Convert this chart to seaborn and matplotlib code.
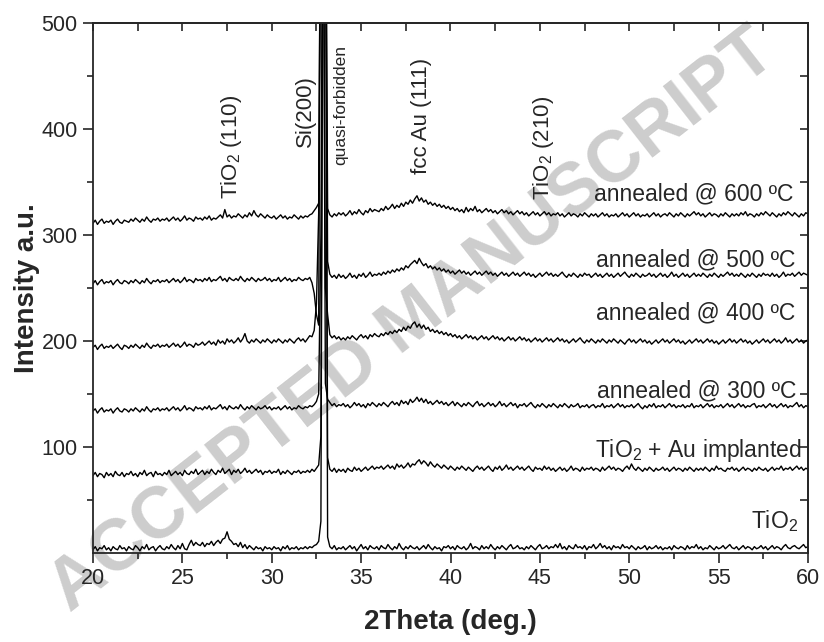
import numpy as np
import pandas as pd
import matplotlib
matplotlib.use("Agg")
import matplotlib.pyplot as plt
from matplotlib.ticker import MultipleLocator, FixedLocator
import seaborn as sns

# ---------------- data (0.125 deg steps) ----------------
two_theta = (20.0 + 0.125 * np.arange(321)).round(3)

tio2 = [
    3, 6, 2, 5, 4, 7, 3, 5, 2, 6, 4, 3, 7, 4, 5, 2,
    6, 4, 3, 7, 5, 2, 6, 4, 8, 3, 5, 6, 2, 5, 7, 4,
    3, 6, 4, 8, 5, 3, 7, 4, 9, 4, 3, 8, 12, 7, 10, 8,
    7, 10, 6, 9, 8, 11, 7, 10, 12, 9, 13, 14, 20, 13, 11, 8,
    9, 6, 10, 5, 8, 4, 7, 5, 3, 6, 4, 5, 2, 6, 4, 5,
    3, 6, 4, 5, 2, 6, 4, 7, 3, 5, 4, 6, 3, 5, 4, 6,
    4, 6, 5, 7, 8, 11, 30, 700, 700, 15, 6, 4, 7, 3, 5, 4,
    6, 3, 5, 7, 4, 6, 2, 5, 8, 4, 6, 3, 7, 5, 4, 6,
    3, 7, 5, 4, 8, 5, 3, 6, 4, 9, 5, 3, 6, 4, 7, 5,
    4, 6, 3, 5, 7, 4, 8, 5, 3, 6, 4, 5, 2, 6, 5, 7,
    4, 6, 3, 7, 5, 4, 6, 3, 5, 9, 4, 6, 5, 3, 7, 4,
    6, 4, 8, 5, 3, 6, 4, 7, 5, 3, 6, 8, 4, 5, 7, 4,
    5, 3, 6, 4, 7, 5, 3, 6, 8, 4, 5, 7, 4, 6, 5, 8,
    5, 9, 4, 6, 3, 7, 5, 4, 8, 5, 6, 4, 7, 3, 6, 5,
    8, 4, 6, 9, 5, 7, 4, 6, 3, 7, 5, 6, 4, 8, 5, 6,
    4, 7, 5, 3, 6, 4, 5, 7, 3, 6, 4, 5, 7, 4, 6, 3,
    5, 4, 6, 3, 7, 5, 4, 6, 5, 3, 7, 4, 6, 5, 8, 4,
    6, 3, 5, 4, 7, 5, 3, 6, 4, 5, 7, 4, 6, 8, 5, 4,
    6, 3, 5, 7, 4, 6, 5, 3, 6, 4, 5, 7, 4, 6, 3, 5,
    7, 4, 6, 5, 3, 6, 8, 5, 4, 6, 7, 5, 4, 6, 8, 5,
    6]

tio2_au = [
    73, 76, 72, 75, 74, 71, 76, 73, 75, 72, 77, 74, 73, 76, 72, 75,
    74, 77, 73, 75, 72, 76, 74, 78, 73, 75, 76, 72, 77, 74, 75, 73,
    76, 74, 78, 73, 75, 77, 74, 76, 73, 78, 75, 74, 77, 75, 79, 74,
    76, 78, 74, 77, 75, 79, 76, 74, 78, 76, 80, 75, 77, 79, 74, 78,
    76, 79, 75, 77, 80, 76, 78, 75, 77, 79, 76, 78, 74, 77, 76, 78,
    75, 77, 76, 79, 74, 77, 75, 78, 76, 74, 77, 76, 78, 75, 77, 76,
    78, 76, 79, 77, 80, 83, 110, 700, 700, 90, 79, 77, 80, 76, 79, 77,
    79, 76, 80, 78, 77, 81, 78, 80, 77, 79, 81, 78, 80, 82, 79, 81,
    80, 82, 79, 81, 83, 80, 82, 79, 84, 81, 83, 80, 82, 85, 81, 84,
    83, 86, 88, 84, 87, 85, 82, 86, 83, 81, 84, 82, 80, 83, 81, 79,
    82, 80, 78, 81, 79, 82, 80, 78, 81, 79, 77, 80, 82, 79, 81, 78,
    80, 82, 79, 77, 81, 79, 82, 78, 80, 83, 79, 81, 78, 80, 82, 79,
    81, 78, 80, 82, 79, 77, 81, 79, 80, 78, 82, 79, 81, 78, 80, 77,
    79, 81, 78, 80, 77, 79, 82, 78, 80, 79, 77, 81, 78, 80, 79, 81,
    78, 80, 79, 77, 81, 78, 80, 82, 79, 81, 78, 80, 79, 77, 80, 82,
    79, 84, 80, 78, 81, 79, 77, 80, 78, 81, 79, 77, 80, 78, 79, 81,
    78, 80, 77, 79, 81, 78, 80, 79, 77, 80, 78, 81, 79, 77, 80, 78,
    80, 78, 81, 79, 77, 80, 78, 82, 79, 80, 78, 77, 80, 79, 81, 78,
    80, 77, 79, 81, 78, 80, 79, 77, 80, 78, 81, 79, 78, 80, 77, 79,
    81, 78, 80, 79, 82, 78, 80, 79, 81, 78, 80, 82, 79, 81, 78, 80,
    79]

ann300 = [
    134, 136, 132, 135, 137, 133, 135, 134, 136, 132, 135, 137, 134, 133, 136, 135,
    133, 136, 134, 137, 135, 133, 136, 134, 138, 135, 133, 136, 135, 137, 134, 136,
    135, 137, 134, 136, 138, 135, 137, 134, 136, 139, 135, 137, 136, 134, 138, 136,
    137, 135, 138, 136, 139, 135, 137, 136, 138, 140, 136, 138, 135, 139, 137, 136,
    138, 136, 140, 137, 135, 138, 136, 139, 137, 135, 138, 136, 137, 139, 136, 138,
    135, 137, 136, 138, 135, 137, 139, 136, 138, 135, 137, 136, 139, 137, 136, 138,
    137, 139, 138, 140, 143, 150, 300, 700, 160, 145, 142, 139, 141, 138, 140, 139,
    141, 138, 140, 137, 139, 142, 139, 141, 138, 140, 137, 141, 139, 142, 140, 138,
    141, 139, 142, 140, 138, 141, 143, 140, 142, 139, 144, 141, 143, 140, 145, 142,
    144, 147, 143, 146, 142, 145, 141, 143, 140, 142, 144, 141, 143, 140, 142, 139,
    141, 143, 139, 142, 140, 138, 141, 139, 142, 140, 138, 141, 143, 139, 141, 138,
    140, 142, 139, 141, 138, 140, 143, 139, 141, 138, 140, 142, 139, 141, 137, 140,
    139, 141, 138, 140, 142, 139, 137, 140, 138, 141, 139, 137, 140, 138, 141, 139,
    137, 140, 138, 141, 139, 137, 140, 138, 139, 141, 137, 139, 138, 140, 137, 139,
    140, 137, 139, 138, 141, 137, 139, 138, 140, 137, 139, 141, 138, 140, 137, 139,
    138, 140, 137, 139, 141, 138, 136, 139, 137, 140, 138, 141, 137, 139, 138, 140,
    137, 139, 141, 138, 140, 137, 139, 138, 140, 137, 139, 138, 141, 137, 139, 138,
    140, 137, 139, 141, 138, 140, 137, 139, 138, 140, 137, 139, 141, 138, 140, 137,
    139, 141, 138, 140, 137, 139, 138, 140, 141, 137, 139, 138, 140, 137, 139, 141,
    138, 140, 137, 139, 141, 138, 140, 137, 139, 138, 140, 142, 138, 140, 137, 139,
    138]

ann400 = [
    194, 196, 192, 195, 197, 193, 195, 194, 196, 193, 195, 197, 194, 192, 196, 195,
    193, 196, 194, 197, 195, 193, 196, 194, 198, 195, 193, 196, 195, 197, 194, 196,
    195, 197, 194, 196, 198, 195, 197, 194, 196, 199, 195, 197, 196, 194, 198, 196,
    197, 199, 196, 198, 200, 197, 199, 196, 201, 198, 200, 197, 202, 199, 201, 198,
    200, 203, 199, 202, 207, 200, 198, 201, 199, 202, 200, 198, 201, 199, 202, 200,
    198, 201, 199, 202, 200, 198, 201, 199, 202, 200, 198, 201, 203, 200, 202, 199,
    202, 205, 204, 210, 235, 320, 700, 700, 250, 225, 206, 203, 205, 202, 204, 201,
    203, 201, 204, 202, 205, 203, 201, 204, 206, 203, 205, 202, 206, 204, 207, 205,
    204, 207, 205, 208, 206, 209, 207, 210, 208, 211, 209, 213, 210, 214, 212, 216,
    218, 213, 216, 212, 215, 211, 213, 209, 211, 208, 210, 207, 209, 206, 208, 205,
    207, 204, 206, 203, 205, 202, 204, 206, 203, 205, 202, 204, 201, 203, 205, 202,
    204, 201, 203, 205, 202, 204, 201, 203, 200, 202, 204, 201, 203, 200, 202, 204,
    201, 203, 200, 202, 199, 201, 203, 200, 202, 199, 201, 203, 200, 202, 199, 201,
    203, 200, 202, 199, 201, 198, 200, 202, 199, 201, 203, 200, 198, 201, 199, 202,
    200, 198, 201, 199, 202, 200, 198, 201, 199, 202, 200, 198, 201, 199, 197, 200,
    202, 199, 201, 198, 200, 202, 199, 201, 198, 200, 197, 199, 201, 198, 200, 202,
    199, 201, 198, 200, 202, 199, 201, 198, 200, 197, 199, 201, 198, 200, 202, 199,
    201, 198, 200, 202, 199, 201, 198, 200, 197, 199, 201, 198, 200, 202, 199, 201,
    198, 200, 202, 199, 201, 198, 200, 197, 199, 201, 198, 200, 202, 199, 201, 198,
    200, 202, 199, 201, 198, 200, 203, 199, 201, 198, 200, 202, 199, 201, 198, 200,
    201]

ann500 = [
    254, 257, 253, 256, 258, 254, 256, 255, 257, 253, 256, 258, 255, 254, 257, 256,
    254, 257, 255, 258, 256, 254, 257, 255, 259, 256, 254, 257, 256, 258, 255, 257,
    256, 258, 255, 257, 259, 256, 258, 255, 257, 260, 256, 258, 257, 255, 259, 257,
    258, 256, 259, 257, 260, 256, 258, 257, 259, 261, 257, 259, 256, 260, 258, 257,
    259, 257, 261, 258, 256, 259, 257, 260, 258, 256, 259, 257, 258, 260, 257, 259,
    256, 258, 257, 260, 256, 258, 260, 257, 259, 256, 258, 257, 260, 258, 257, 259,
    258, 260, 255, 245, 225, 215, 700, 700, 700, 275, 263, 260, 262, 259, 263, 260,
    262, 259, 261, 264, 260, 262, 259, 263, 261, 264, 260, 262, 265, 261, 263, 262,
    264, 262, 265, 263, 266, 264, 267, 265, 268, 266, 269, 267, 271, 269, 272, 274,
    276, 273, 278, 274, 271, 273, 269, 271, 268, 270, 267, 269, 266, 268, 265, 267,
    264, 266, 263, 265, 267, 264, 266, 263, 265, 262, 264, 266, 263, 265, 262, 264,
    266, 263, 265, 262, 264, 261, 263, 265, 262, 264, 261, 263, 265, 262, 264, 261,
    263, 265, 262, 264, 261, 263, 260, 262, 264, 261, 263, 265, 262, 264, 261, 263,
    261, 263, 265, 262, 260, 263, 261, 264, 262, 260, 263, 261, 264, 262, 263, 260,
    262, 264, 261, 263, 260, 262, 264, 261, 263, 260, 262, 264, 261, 263, 265, 262,
    260, 263, 261, 264, 262, 260, 263, 261, 262, 264, 261, 263, 260, 262, 264, 261,
    263, 260, 262, 265, 261, 263, 260, 262, 264, 261, 263, 260, 262, 264, 261, 263,
    261, 264, 262, 260, 263, 261, 264, 262, 260, 263, 261, 263, 265, 262, 264, 261,
    263, 261, 264, 262, 260, 263, 261, 264, 262, 260, 263, 261, 264, 262, 263, 261,
    264, 261, 263, 260, 262, 265, 261, 263, 262, 264, 261, 263, 265, 262, 264, 263,
    262]

ann600 = [
    311, 314, 310, 313, 315, 311, 313, 312, 314, 310, 313, 315, 312, 311, 314, 313,
    312, 315, 313, 316, 314, 312, 315, 313, 317, 314, 312, 315, 314, 316, 313, 315,
    314, 316, 313, 315, 317, 314, 316, 313, 315, 318, 314, 316, 315, 313, 317, 315,
    316, 314, 317, 315, 318, 314, 316, 315, 317, 319, 316, 324, 317, 319, 316, 318,
    317, 320, 318, 316, 319, 317, 321, 318, 323, 319, 317, 320, 318, 316, 319, 317,
    316, 318, 315, 317, 319, 316, 318, 315, 317, 316, 319, 317, 315, 318, 316, 318,
    317, 319, 320, 323, 326, 330, 700, 700, 700, 325, 319, 317, 320, 318, 321, 319,
    321, 318, 320, 323, 319, 322, 320, 324, 321, 319, 323, 321, 325, 322, 324, 323,
    322, 325, 323, 327, 324, 326, 329, 325, 328, 326, 330, 327, 331, 329, 333, 330,
    334, 337, 332, 335, 331, 333, 329, 331, 328, 330, 327, 329, 326, 328, 325, 327,
    324, 326, 323, 325, 322, 324, 321, 326, 322, 325, 323, 327, 322, 324, 321, 323,
    325, 322, 324, 321, 323, 320, 322, 324, 321, 323, 320, 322, 319, 321, 323, 320,
    322, 319, 321, 318, 320, 322, 319, 321, 318, 320, 322, 319, 321, 318, 320, 319,
    321, 318, 320, 317, 319, 321, 318, 320, 319, 317, 320, 318, 321, 319, 317, 320,
    318, 320, 317, 319, 321, 318, 320, 317, 319, 318, 320, 317, 319, 321, 318, 320,
    317, 319, 321, 318, 320, 317, 319, 318, 320, 317, 319, 321, 318, 320, 317, 319,
    320, 318, 321, 319, 317, 320, 318, 321, 319, 317, 320, 318, 320, 322, 319, 321,
    318, 320, 317, 319, 321, 318, 320, 319, 317, 320, 318, 321, 319, 317, 320, 318,
    320, 318, 321, 319, 322, 318, 320, 319, 317, 320, 318, 321, 319, 322, 320, 318,
    321, 319, 317, 320, 318, 321, 319, 322, 320, 318, 321, 319, 317, 320, 318, 321,
    320]

series_names = ["TiO2", "TiO2 + Au implanted", "annealed @ 300", "annealed @ 400",
                "annealed @ 500", "annealed @ 600"]
series_values = [tio2, tio2_au, ann300, ann400, ann500, ann600]

x_ticks = [20, 25, 30, 35, 40, 45, 50, 55, 60]
y_ticks = [100, 200, 300, 400, 500]
y_minor = [50, 150, 250, 350, 450]

peak_labels = ["TiO$_2$ (110)", "Si(200)", "quasi-forbidden", "fcc Au (111)", "TiO$_2$ (210)"]
peak_pos = [27.75, 31.9, 33.87, 38.35, 45.2]
peak_base = [334, 383, 366, 358, 333]

curve_labels = ["annealed @ 600 ºC", "annealed @ 500 ºC", "annealed @ 400 ºC",
                "annealed @ 300 ºC", "TiO$_2$ + Au implanted", "TiO$_2$"]
curve_label_x = [59.2, 59.3, 59.3, 59.35, 59.65, 59.45]
curve_label_y = [333, 270, 220, 147, 90.5, 23.6]

# ---------------- build table ----------------
frames = []
for name, vals in zip(series_names, series_values):
    assert len(vals) == len(two_theta), (name, len(vals))
    frames.append(pd.DataFrame({"two_theta": two_theta, "intensity": vals, "sample": name}))
df = pd.concat(frames, ignore_index=True)

# ---------------- style ----------------
sns.set_style("ticks")
plt.rcParams["font.family"] = ["Liberation Sans", "DejaVu Sans"]
plt.rcParams["mathtext.fontset"] = "custom"
plt.rcParams["mathtext.rm"] = "Liberation Sans"
plt.rcParams["mathtext.default"] = "regular"

fig = plt.figure(figsize=(8.24, 6.42), dpi=100)
ax = fig.add_axes([93 / 824, 1 - 553 / 642, (808 - 93) / 824, (553 - 23) / 642])
ax.set_facecolor("none")

for name in series_names:
    sns.lineplot(data=df[df["sample"] == name], x="two_theta", y="intensity",
                 color="black", linewidth=1.0, estimator=None, sort=False, ax=ax,
                 legend=False)

ax.set_xlim(20, 60)
ax.set_ylim(0, 500)
ax.xaxis.set_major_locator(FixedLocator(x_ticks))
ax.xaxis.set_minor_locator(MultipleLocator(2.5))
ax.yaxis.set_major_locator(FixedLocator(y_ticks))
ax.yaxis.set_minor_locator(FixedLocator(y_minor))
ax.tick_params(which="major", direction="out", length=7, width=1.2, labelsize=15.5, pad=4)
ax.tick_params(which="minor", direction="out", length=4, width=1.2)
for s in ax.spines.values():
    s.set_linewidth(1.3)

secx = ax.secondary_xaxis("top")
secx.xaxis.set_major_locator(FixedLocator(x_ticks))
secx.xaxis.set_minor_locator(MultipleLocator(2.5))
secx.tick_params(which="both", direction="in", length=6, width=1.2, labeltop=False)
secx.spines["top"].set_linewidth(1.3)
secy = ax.secondary_yaxis("right")
secy.yaxis.set_major_locator(FixedLocator(y_ticks))
secy.yaxis.set_minor_locator(FixedLocator(y_minor))
secy.tick_params(which="both", direction="in", length=6, width=1.2, labelright=False)
secy.spines["right"].set_linewidth(1.3)

ax.set_xlabel("2Theta (deg.)", fontsize=20, fontweight="bold", labelpad=14)
ax.set_ylabel("Intensity a.u.", fontsize=20, fontweight="bold", labelpad=1)

for lab, px, pb in zip(peak_labels, peak_pos, peak_base):
    fs = 12.5 if lab == "quasi-forbidden" else 16
    ax.text(px, pb, lab, rotation=90, ha="center", va="bottom", fontsize=fs, zorder=4)

for lab, lx, ly in zip(curve_labels, curve_label_x, curve_label_y):
    ax.text(lx, ly, lab, ha="right", va="baseline", fontsize=16.5, zorder=4)

# watermark (kept fully inside the figure)
fig.text(0.5, 0.5, "ACCEPTED MANUSCRIPT", rotation=38, fontsize=52,
         fontweight="bold", color="#cdcdcd", ha="center", va="center", zorder=-1)

fig.savefig("out.png", dpi=100)
